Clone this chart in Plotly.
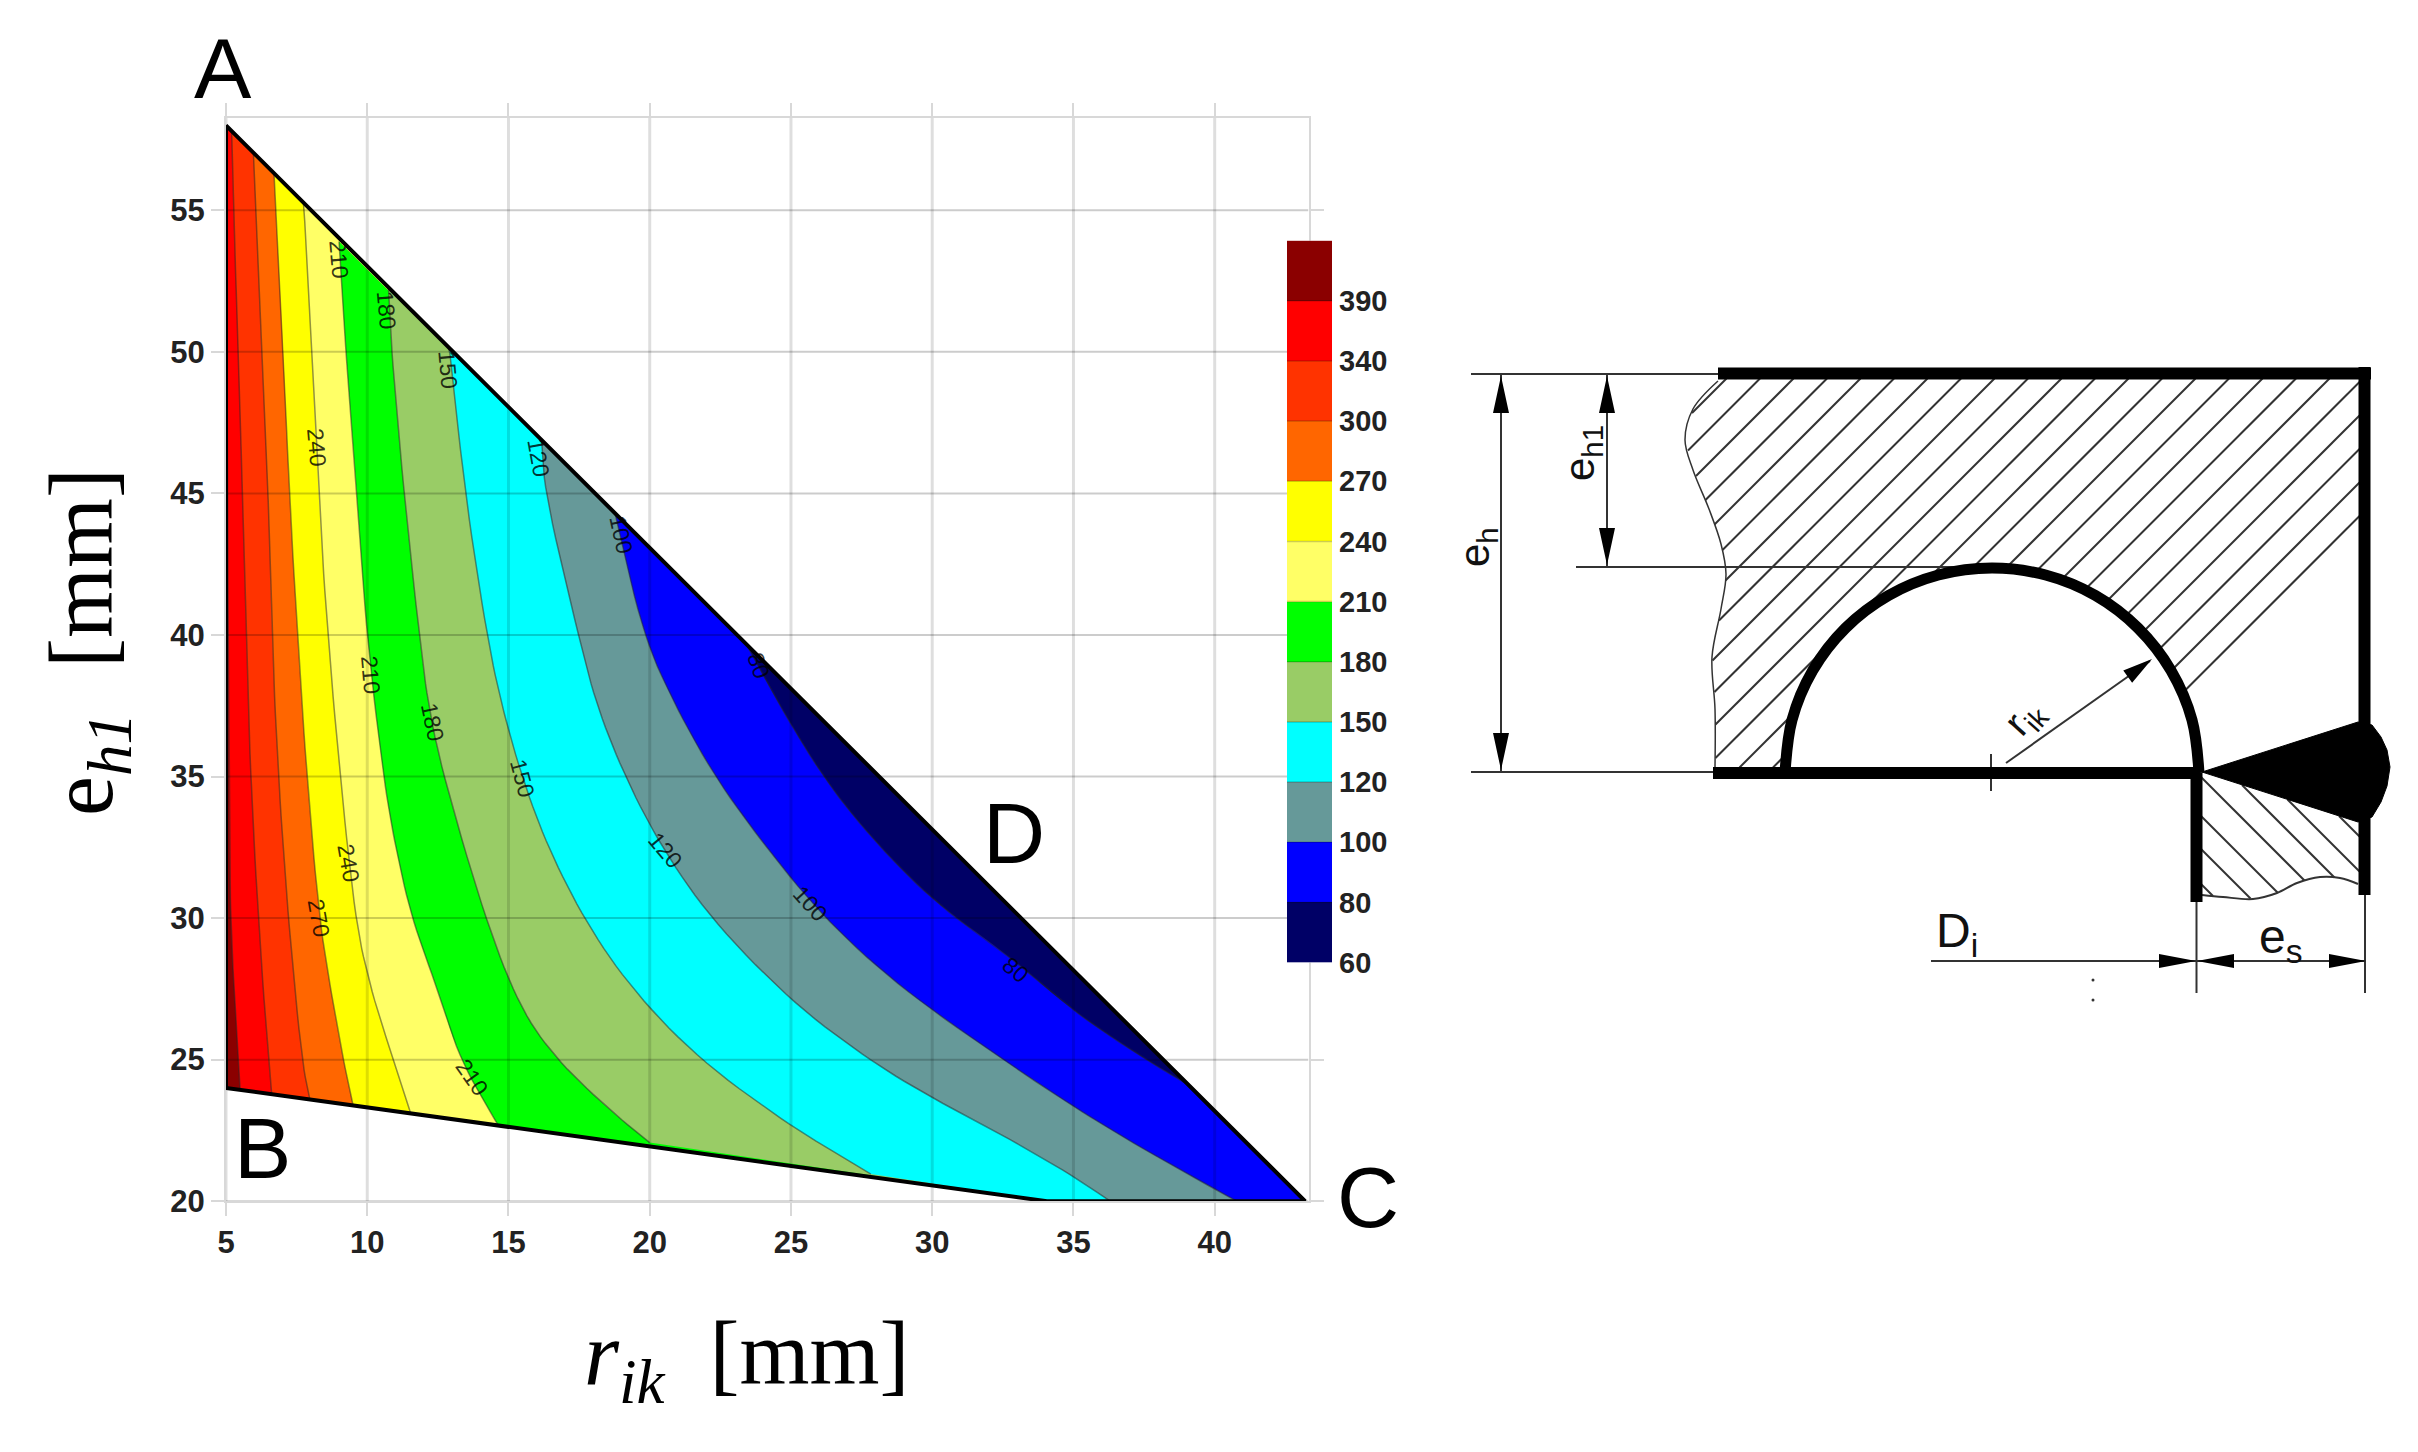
import numpy as np
import plotly.graph_objects as go

W, H = 2418, 1452

# ---------- contour chart data ----------
x_ticks = [5, 10, 15, 20, 25, 30, 35, 40]
y_ticks = [20, 25, 30, 35, 40, 45, 50, 55]
level_labels = [60, 80, 100, 120, 150, 180, 210, 240, 270, 300, 340, 390]
band_colors = ["#000066", "#0000FF", "#669999", "#00FFFF", "#99CC66", "#00FF00",
               "#FFFF66", "#FFFF00", "#FF6600", "#FF3300", "#FF0000", "#8B0000"]

domain_x = [5, 5, 34.06, 43.2]
domain_y = [58, 24, 20, 20]

c390_x = [5.0, 5.02, 5.08, 5.12, 5.2, 5.35, 5.5]
c390_y = [58, 50, 40, 32, 29, 26.5, 23.93]
c340_x = [5.2, 5.26, 5.44, 5.58, 5.71, 5.87, 6.14, 6.5, 6.62]
c340_y = [57.8, 55, 50, 45, 40, 35, 30, 25, 23.77]
c300_x = [5.97, 6.06, 6.26, 6.5, 6.62, 6.85, 7.2, 7.68, 7.97]
c300_y = [57.03, 55, 50, 45, 40, 35, 30, 25, 23.59]
c270_x = [6.7, 6.76, 7.03, 7.24, 7.53, 7.86, 8.3, 8.7, 9.15, 9.5]
c270_y = [56.3, 55, 50, 45, 40, 35, 30, 27.5, 25, 23.38]
c240_x = [7.74, 7.77, 8.03, 8.27, 8.6, 9.04, 9.57, 10.1, 10.92, 11.54]
c240_y = [55.28, 55, 50, 45, 40, 35, 30, 27.56, 25, 23.1]
c210_x = [9.0, 9.24, 9.63, 9.98, 10.57, 10.98, 11.57, 12.46, 13.28, 14.64]
c210_y = [53.9, 50, 45, 40, 35, 32.6, 30, 27.56, 25, 22.67]
c180_x = [10.75, 10.86, 11.3, 11.84, 12.16, 12.7, 14.17, 15.4, 16.7, 18.6, 20.0]
c180_y = [52.28, 50, 45, 40, 37.5, 35, 30, 26.84, 25, 23.2, 22.07]
c150_x = [12.87, 12.93, 13.46, 14.23, 14.76, 15.47, 16.35, 17.65, 19.3, 21.75, 25.0, 26.6, 27.83]
c150_y = [50.17, 50, 45, 40, 37.5, 35, 32.6, 30, 27.56, 25, 22.65, 21.7, 20.96]
c120_x = [16.17, 16.29, 17.47, 18.12, 19.12, 20.36, 22.14, 25.0, 27.75, 29.96, 32.2, 34.9, 36.3]
c120_y = [46.9, 45, 40, 37.5, 35, 32.6, 30, 27.06, 25, 23.66, 22.5, 20.95, 20]
c100_x = [18.77, 19.77, 20.9, 22.3, 24.04, 26.17, 28.85, 32.5, 35.17, 37.54, 40.78]
c100_y = [44.3, 40, 37.5, 35, 32.6, 30, 27.56, 25, 23.23, 21.8, 20]
c80_x = [23.4, 24.59, 26.17, 27.9, 30.12, 32.65, 35.0, 37.4, 38.96]
c80_y = [39.7, 37.52, 34.92, 32.76, 30.52, 28.72, 26.7, 25.1, 24.17]

contours_x = [c390_x, c340_x, c300_x, c270_x, c240_x, c210_x, c180_x, c150_x, c120_x, c100_x, c80_x]
contours_y = [c390_y, c340_y, c300_y, c270_y, c240_y, c210_y, c180_y, c150_y, c120_y, c100_y, c80_y]

label_text = ["210", "180", "150", "120", "100", "240", "210", "180", "150", "120", "240", "270", "210", "100", "80", "80"]
label_x = [9.01, 10.69, 12.87, 16.06, 19.0, 8.21, 10.13, 12.32, 15.5, 20.54, 9.35, 8.27, 13.7, 25.66, 32.96, 23.85]
label_y = [53.26, 51.49, 49.37, 46.25, 43.54, 46.64, 38.6, 36.94, 34.96, 32.4, 31.96, 29.99, 24.39, 30.52, 28.18, 38.89]
label_angle = [85, 85, 85, 80, 78, 85, 85, 78, 75, 50, 80, 80, 55, 48, 40, 70]

# ---------- schematic geometry (drawing units = reference pixels) ----------
arc_x = [2199, 2192, 2171, 2138, 2095.5, 2045.6, 1992, 1938.4, 1888.5, 1845.6, 1812.7, 1792, 1785]
arc_y = [773, 720, 670.5, 628, 595.5, 575, 568, 575, 595.5, 628, 670.5, 720, 773]
wave_left_x = [1718, 1693, 1685, 1693, 1709, 1721, 1726, 1721, 1712, 1715, 1715]
wave_left_y = [381, 409, 440, 470, 509, 544, 574, 609, 657, 709, 767]
wave_bottom_x = [2202, 2223, 2253, 2277, 2297, 2320, 2340, 2358]
wave_bottom_y = [895, 897, 899, 893, 883, 877, 878, 884]
weld_x = [2202, 2358, 2372, 2381, 2387, 2390, 2387, 2381, 2372, 2358, 2202]
weld_y = [772, 722, 725, 737, 750, 767, 786, 802, 817, 822, 772]
hatch_up = [2507 + 33.5 * k for k in range(-16, 12)]
hatch_down = [1317, 1352, 1385, 1424, 1457, 1488, 1523, 1556]

thick_x = [[1718, 2371], [2364.5, 2364.5], [1713, 2199], [2196.5, 2196.5]]
thick_y = [[373.5, 373.5], [367, 895], [773, 773], [773, 902]]
thin_x = [[1471, 1718], [1576, 1990], [1471, 1713], [1501, 1501], [1607, 1607],
          [2006, 2150], [1991, 1991], [1931, 2196], [2196, 2366], [2196.5, 2196.5], [2365, 2365]]
thin_y = [[374, 374], [567, 567], [772, 772], [374, 772], [374, 567],
          [763, 661], [754, 791], [961, 961], [961, 961], [902, 993], [895, 993]]
# tip x, tip y, direction x, direction y, length, width
arrows = [(1501, 376, 0, 1, 37, 16), (1501, 770, 0, -1, 37, 16), (1607, 376, 0, 1, 37, 16),
          (1607, 565, 0, -1, 37, 16), (2152, 659, -0.81, 0.59, 30, 15), (2196, 961, -1, 0, 37, 14),
          (2197, 961, 1, 0, 37, 14), (2366, 961, -1, 0, 37, 14)]
dots_x = [2093, 2093]
dots_y = [980, 1000]
schem_text = ["e<sub>h</sub>", "e<sub>h1</sub>", "r<sub>ik</sub>", "D<sub>i</sub>", "e<sub>s</sub>"]
schem_tx = [1477, 1582, 2025, 1957, 2281]
schem_ty = [547, 453, 718, 934, 940]
schem_ang = [-90, -90, -48, 0, 0]
schem_size = [42, 42, 40, 48, 48]


def smooth(xs, ys, rounds=3):
    """Corner-cutting of the read-off contour so it draws as a curve; the ends stay put."""
    p = np.column_stack([xs, ys]).astype(float)
    for _ in range(rounds):
        q = [p[0]]
        for a, b in zip(p[:-1], p[1:]):
            q += [0.75 * a + 0.25 * b, 0.25 * a + 0.75 * b]
        q.append(p[-1])
        p = np.array(q)
    return p[:, 0].tolist(), p[:, 1].tolist()


fig = go.Figure()

# base of the filled map
fig.add_trace(go.Scatter(x=domain_x + domain_x[:1], y=domain_y + domain_y[:1], fill="toself",
                         fillcolor=band_colors[-1], mode="none", hoverinfo="skip"))
# bands, high to low: each paints everything to the right of its contour
for i, (rx, ry) in enumerate(zip(contours_x, contours_y)):
    cx, cy = smooth(rx, ry)
    tail_x, tail_y = [], []
    if i < len(contours_x) - 1:
        if cx[-1] < domain_x[2]:
            tail_x.append(domain_x[2]); tail_y.append(domain_y[2])
        tail_x.append(domain_x[3]); tail_y.append(domain_y[3])
    fig.add_trace(go.Scatter(x=cx + tail_x + cx[:1], y=cy + tail_y + cy[:1], fill="toself",
                             fillcolor=band_colors[-2 - i], mode="none", hoverinfo="skip"))
# contour lines
for rx, ry in zip(contours_x, contours_y):
    cx, cy = smooth(rx, ry)
    fig.add_trace(go.Scatter(x=cx, y=cy, mode="lines", hoverinfo="skip",
                             line=dict(color="rgba(40,40,40,0.5)", width=1.5)))
# grid lines over the colours
x_max, y_max = 43.32, 58.26
gx, gy = [], []
for t in x_ticks:
    gx += [t, t, None]; gy += [20, y_max, None]
fig.add_trace(go.Scatter(x=gx, y=gy, mode="lines", hoverinfo="skip",
                         line=dict(color="rgba(0,0,0,0.13)", width=3)))
gx, gy = [], []
for t in y_ticks:
    gx += [5, x_max, None]; gy += [t, t, None]
fig.add_trace(go.Scatter(x=gx, y=gy, mode="lines", hoverinfo="skip",
                         line=dict(color="rgba(0,0,0,0.2)", width=2)))
# outline
fig.add_trace(go.Scatter(x=domain_x + domain_x[:1], y=domain_y + domain_y[:1], mode="lines",
                         hoverinfo="skip", line=dict(color="black", width=4)))

# colour key
n = len(band_colors)
key_scale = []
for k, col in enumerate(band_colors):
    key_scale += [[k / n, col], [(k + 1) / n, col]]
fig.add_trace(go.Heatmap(z=[[k] for k in range(n)], x=[0], y=[k + 0.5 for k in range(n)], zmin=-0.5, zmax=n - 0.5,
                         colorscale=key_scale, showscale=False, xaxis="x2", yaxis="y2", hoverinfo="skip"))
sep_x, sep_y = [], []
for k in range(1, n):
    sep_x += [-0.5, 0.5, None]; sep_y += [k, k, None]
fig.add_trace(go.Scatter(x=sep_x, y=sep_y, mode="lines", xaxis="x2", yaxis="y2", hoverinfo="skip",
                         line=dict(color="rgba(0,0,0,0.2)", width=1.5)))

# ---------- schematic ----------
def segs(xs, ys):
    ox, oy = [], []
    for a, b in zip(xs, ys):
        ox += list(a) + [None]; oy += list(b) + [None]
    return ox, oy

def s_line(x, y, color="#111", width=2, shape="linear", **kw):
    fig.add_trace(go.Scatter(x=x, y=y, mode="lines", xaxis="x3", yaxis="y3", hoverinfo="skip",
                             line=dict(color=color, width=width, shape=shape), **kw))

hx, hy = [], []
for c in hatch_up:
    X = np.arange(1680.0, 2364.0, 0.5)
    Y = c - X
    mask = (Y > 378) & (Y < 768) & (X < 2360)
    mask &= X > np.interp(Y, wave_left_y, wave_left_x)
    mask &= ((X - 1992) / 207) ** 2 + ((Y - 773) / 205) ** 2 > 1
    mask &= Y < 772 - (X - 2202) * 50 / 156
    idx = np.where(mask)[0]
    if len(idx):
        for run in np.split(idx, np.where(np.diff(idx) > 1)[0] + 1):
            hx += [float(X[run[0]]), float(X[run[-1]]), None]
            hy += [float(Y[run[0]]), float(Y[run[-1]]), None]
for c in hatch_down:
    X = np.arange(2200.0, 2360.0, 0.5)
    Y = X - c
    mask = (Y > 772 + (X - 2202) * 50 / 156) & (Y < np.interp(X, wave_bottom_x, wave_bottom_y))
    idx = np.where(mask)[0]
    if len(idx):
        hx += [float(X[idx[0]]), float(X[idx[-1]]), None]
        hy += [float(Y[idx[0]]), float(Y[idx[-1]]), None]
s_line(hx, hy, color="#333", width=2)
s_line(wave_left_x, wave_left_y, color="#333", width=1.5, shape="spline")
s_line(wave_bottom_x, wave_bottom_y, color="#333", width=2, shape="spline")

tx, ty = segs(thin_x, thin_y)
s_line(tx, ty, color="#333", width=2)
tx, ty = segs(thick_x, thick_y)
s_line(tx, ty, color="black", width=12)
s_line(arc_x, arc_y, color="black", width=11, shape="spline")
fig.add_trace(go.Scatter(x=weld_x, y=weld_y, fill="toself", fillcolor="black", mode="lines",
                         line=dict(color="black", width=1), xaxis="x3", yaxis="y3", hoverinfo="skip"))
ax, ay = [], []
for tipx, tipy, dx, dy, ln, wd in arrows:
    bx, by = tipx + dx * ln, tipy + dy * ln
    ax += [tipx, bx - dy * wd / 2, bx + dy * wd / 2, tipx, None]
    ay += [tipy, by + dx * wd / 2, by - dx * wd / 2, tipy, None]
fig.add_trace(go.Scatter(x=ax, y=ay, fill="toself", fillcolor="black", mode="none",
                         xaxis="x3", yaxis="y3", hoverinfo="skip"))
fig.add_trace(go.Scatter(x=dots_x, y=dots_y, mode="markers", marker=dict(color="#333", size=3),
                         xaxis="x3", yaxis="y3", hoverinfo="skip"))

# ---------- annotations ----------
ann = []
for t, x, y, a in zip(label_text, label_x, label_y, label_angle):
    ann.append(dict(text=t, x=x, y=y, xref="x", yref="y", textangle=a, showarrow=False,
                    font=dict(family="Liberation Sans", size=23, color="rgba(0,0,0,0.8)")))
for t, x, y, a, s in zip(schem_text, schem_tx, schem_ty, schem_ang, schem_size):
    ann.append(dict(text=t, x=x, y=y, xref="x3", yref="y3", textangle=a, showarrow=False,
                    font=dict(family="Liberation Sans", size=s, color="#111")))
corner_text = ["A", "B", "C", "D"]
corner_x = [223, 262, 1368, 1014]
corner_y = [68, 1148, 1197, 833]
for t, x, y in zip(corner_text, corner_x, corner_y):
    ann.append(dict(text=t, x=x / W, y=1 - y / H, xref="paper", yref="paper", showarrow=False,
                    xanchor="center", yanchor="middle",
                    font=dict(family="Liberation Sans", size=86, color="black")))
ann.append(dict(text="<i>r<sub>ik</sub></i>&nbsp;&nbsp;[mm]", x=747 / W, y=1 - 1360 / H, xref="paper", yref="paper",
                xanchor="center", yanchor="middle",
                showarrow=False, font=dict(family="Liberation Serif", size=90, color="black")))
ann.append(dict(text="e<i><sub>h1</sub></i>&nbsp;&nbsp;[mm]", x=88 / W, y=1 - 642 / H, xref="paper", yref="paper",
                xanchor="center", yanchor="middle",
                textangle=-90, showarrow=False, font=dict(family="Liberation Serif", size=90, color="black")))

tick_font = dict(family="Liberation Sans", size=31, color="#222", weight="bold")
grid_axis = dict(showgrid=False, zeroline=False, showline=True, linecolor="#d8d8d8", linewidth=2, mirror="ticks",
                 automargin=False, ticks="outside", ticklen=13, tickwidth=2, tickcolor="#d8d8d8", tickfont=tick_font)

fig.update_layout(
    width=W, height=H, margin=dict(l=0, r=0, t=0, b=0, autoexpand=False), paper_bgcolor="white", plot_bgcolor="white",
    showlegend=False, annotations=ann,
    xaxis=dict(domain=[226 / W, 1308.5 / W], range=[5, x_max], tickvals=x_ticks, anchor="y", **grid_axis),
    yaxis=dict(domain=[1 - 1201.2 / H, 1 - 118 / H], range=[20, y_max], tickvals=y_ticks, anchor="x", **grid_axis),
    xaxis2=dict(domain=[1287 / W, 1332 / W], range=[-0.5, 0.5], visible=False, anchor="y2", automargin=False),
    yaxis2=dict(domain=[1 - 962.6 / H, 1 - 240.6 / H], range=[0, 12], anchor="x2", side="right", showgrid=False,
                automargin=False, zeroline=False, showline=False, ticks="", ticklabelstandoff=6,
                tickvals=list(range(len(level_labels))), ticktext=[str(v) for v in level_labels],
                tickfont=dict(family="Liberation Sans", size=29, color="#222", weight="bold")),
    xaxis3=dict(domain=[1440 / W, 1], range=[1440, 2418], visible=False, anchor="y3", automargin=False),
    yaxis3=dict(domain=[1 - 1020 / H, 1 - 340 / H], range=[1020, 340], visible=False, anchor="x3", automargin=False),
)
fig.write_html("out.html", config={"displayModeBar": False}, post_script="document.body.style.margin='0';")
